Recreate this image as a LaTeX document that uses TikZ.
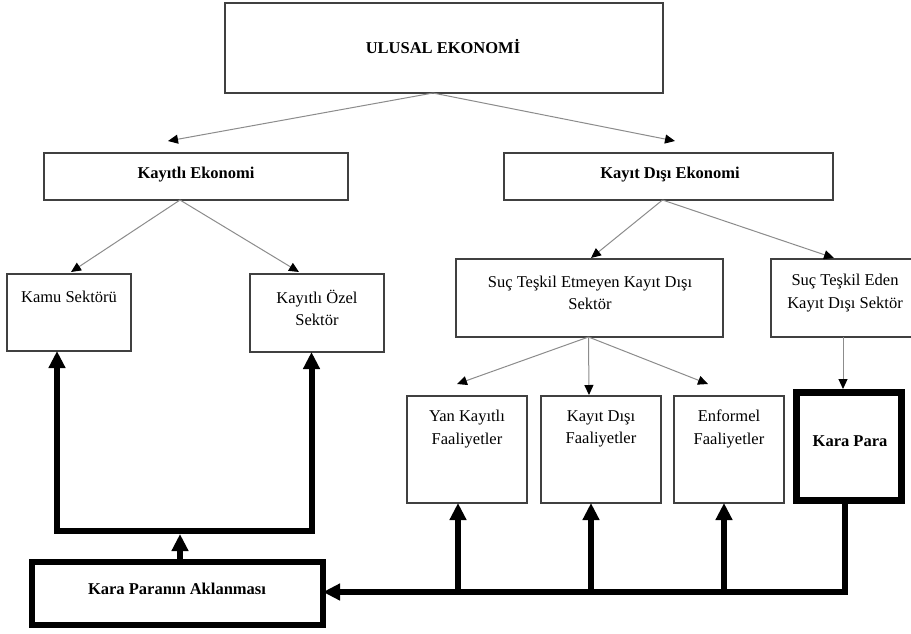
\documentclass[tikz,border=0pt]{standalone}
\usepackage{fontspec}
\setmainfont{Liberation Serif}
\usetikzlibrary{arrows.meta,calc}
\tikzset{
  box/.style={draw=black!75,line width=1.2pt,inner sep=0pt,outer sep=0pt},
  heavybox/.style={draw=black,inner sep=0pt,outer sep=0pt},
  txt/.style={inner sep=0pt,align=center,font=\fontsize{16.5}{22.5}\selectfont},
  btxt/.style={txt,font=\fontsize{16.5}{22.5}\selectfont\bfseries},
  thinarrow/.style={draw=black!45,line width=1pt,-{Triangle[length=10pt,width=9pt,color=black]}},
  heavyline/.style={draw=black,line width=6pt,line join=miter},
  heavytip/.style={-{Triangle[length=17pt,width=16pt]}},
}
\begin{document}
\begin{tikzpicture}[x=1pt,y=-1pt]
\clip (0,0) rectangle (911,633);
\useasboundingbox (0,0) rectangle (911,633);
\fill[white] (0,0) rectangle (911,633);

% boxes
\node[box,minimum width=438pt,minimum height=90pt] (top) at (444,48) {};
\node[box,minimum width=304pt,minimum height=47pt] (ke) at (196,176.5) {};
\node[box,minimum width=329pt,minimum height=47pt] (kde) at (668.5,176.5) {};
\node[box,minimum width=124pt,minimum height=77pt] (kamu) at (69,312.5) {};
\node[box,minimum width=134pt,minimum height=78pt] (ozel) at (317,313) {};
\node[box,minimum width=267pt,minimum height=78pt] (ste) at (589.5,298) {};
\node[box,minimum width=148pt,minimum height=78pt] (sed) at (845,298) {};
\node[box,minimum width=120pt,minimum height=107pt] (yan) at (467,449.5) {};
\node[box,minimum width=120pt,minimum height=107pt] (kdf) at (601,449.5) {};
\node[box,minimum width=110pt,minimum height=107pt] (enf) at (729,449.5) {};
\node[heavybox,line width=7pt,minimum width=105pt,minimum height=108pt] (kp) at (849,446.5) {};
\node[heavybox,line width=6pt,minimum width=291pt,minimum height=63pt] (ak) at (177.5,593.5) {};

% texts
\node[btxt] (ttop) at (443,47) {ULUSAL EKONOMİ};
\node[btxt] (tke) at (196,175) {Kayıtlı Ekonomi};
\node[btxt] (tkde) at (670,175) {Kayıt Dışı Ekonomi};
\node[txt] (tkamu) at (69,297) {Kamu Sektörü};
\node[txt] (tozel) at (317,308) {Kayıtlı Özel\\Sektör};
\node[txt] (tste) at (590,293) {Suç Teşkil Etmeyen Kayıt Dışı\\Sektör};
\node[txt] (tsed) at (845,293) {Suç Teşkil Eden\\Kayıt Dışı Sektör};
\node[txt] (tyan) at (467,429) {Yan Kayıtlı\\Faaliyetler};
\node[txt] (tkdf) at (601,429) {Kayıt Dışı\\Faaliyetler};
\node[txt] (tenf) at (729,429) {Enformel\\Faaliyetler};
\node[btxt] (tkp) at (850,441) {Kara Para};
\node[btxt] (tak) at (177,589) {Kara Paranın Aklanması};

% thin arrow tips
\coordinate (a1) at (168,141);
\coordinate (a2) at (675,141);
\coordinate (b1) at (71,272);
\coordinate (b2) at (299,272);
\coordinate (c1) at (591,258);
\coordinate (c2) at (834,258);
\coordinate (d1) at (457,384);
\coordinate (d2) at (589,395);
\coordinate (d3) at (708,384);
\coordinate (e1) at (843,389);

\draw[thinarrow] ([xshift=-11pt]top.south) -- (a1);
\draw[thinarrow] ([xshift=-11pt]top.south) -- (a2);
\draw[thinarrow] ([xshift=-16pt]ke.south) -- (b1);
\draw[thinarrow] ([xshift=-16pt]ke.south) -- (b2);
\draw[thinarrow] ([xshift=-6pt]kde.south) -- (c1);
\draw[thinarrow] ([xshift=-6pt]kde.south) -- (c2);
\draw[thinarrow] ([xshift=-1pt]ste.south) -- (d1);
\draw[thinarrow] ([xshift=-1pt]ste.south) -- (d2);
\draw[thinarrow] ([xshift=-1pt]ste.south) -- (d3);
\draw[thinarrow] (e1 |- sed.south) -- (e1);

% heavy connectors
\coordinate (L1) at (57,531);
\coordinate (R1) at (311.5,531);
\coordinate (M) at (180,534);
\coordinate (J) at (845,592);
\coordinate (B1) at (458,592);
\coordinate (B2) at (591,592);
\coordinate (B3) at (724,592);

\draw[heavyline,{Triangle[length=17pt,width=16pt]}-{Triangle[length=17pt,width=16pt]}]
  (kamu.south -| L1) -- (L1) -- (R1) -- (ozel.south -| R1);
\draw[heavyline,heavytip] (M |- ak.north) -- (M);
\draw[heavyline,heavytip] (kp.south -| J) -- (J) -- (J -| ak.east);
\draw[heavyline,heavytip] (B1) -- (B1 |- yan.south);
\draw[heavyline,heavytip] (B2) -- (B2 |- kdf.south);
\draw[heavyline,heavytip] (B3) -- (B3 |- enf.south);
\end{tikzpicture}
\end{document}
